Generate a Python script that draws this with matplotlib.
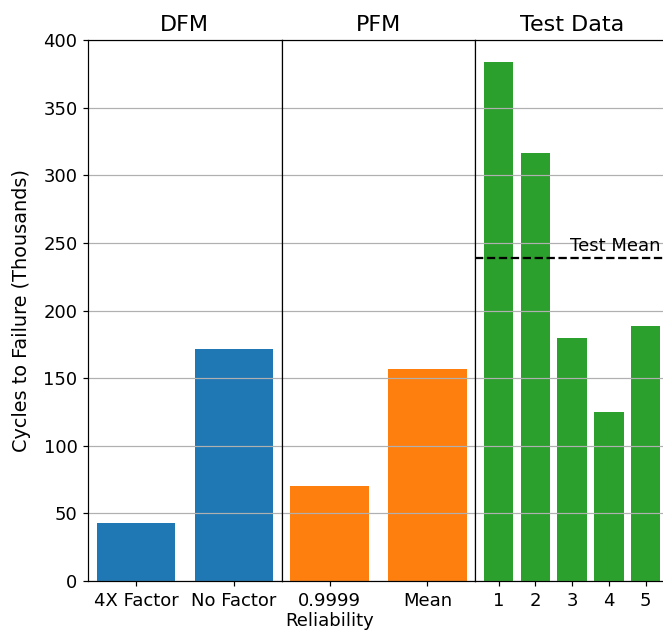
import numpy as np
import matplotlib
matplotlib.use("Agg")
import matplotlib.pyplot as plt

plt.rcParams['font.size'] = 12

# data (thousands of cycles)
dfm_labels = ['4X Factor', 'No Factor']
dfm_values = [43, 171.5]
pfm_labels = ['0.9999\nReliability', 'Mean']
pfm_values = [70.5, 156.5]
test_labels = ['1', '2', '3', '4', '5']
test_values = [384, 316.5, 179.5, 125, 188.5]
test_mean = np.mean(test_values)

dpi = 108
fig, axes = plt.subplots(1, 3, sharey=True, figsize=(663 / dpi, 634 / dpi), dpi=dpi)
fig.subplots_adjust(left=88 / 663, right=669 / 663, top=1 - 40 / 634, bottom=1 - 581 / 634, wspace=0)

panels = [('DFM', dfm_labels, dfm_values, 'tab:blue'),
          ('PFM', pfm_labels, pfm_values, 'tab:orange'),
          ('Test Data', test_labels, test_values, 'tab:green')]

for ax, (title, labels, values, color) in zip(axes, panels):
    ax.bar(labels, values, color=color)
    ax.set_title(title, fontsize=14.8)
    ax.grid(axis='y')
    ax.set_ylim(0, 400)

for ax in axes[1:]:
    ax.tick_params(axis='y', left=False)

axes[0].set_ylabel('Cycles to Failure (Thousands)', fontsize=12.8, labelpad=8)

axes[2].axhline(test_mean, color='black', linestyle='--', linewidth=1.5)
axes[2].text(4.4, test_mean + 2, 'Test Mean', ha='right', va='bottom')

fig.savefig('out.png', dpi=dpi)
